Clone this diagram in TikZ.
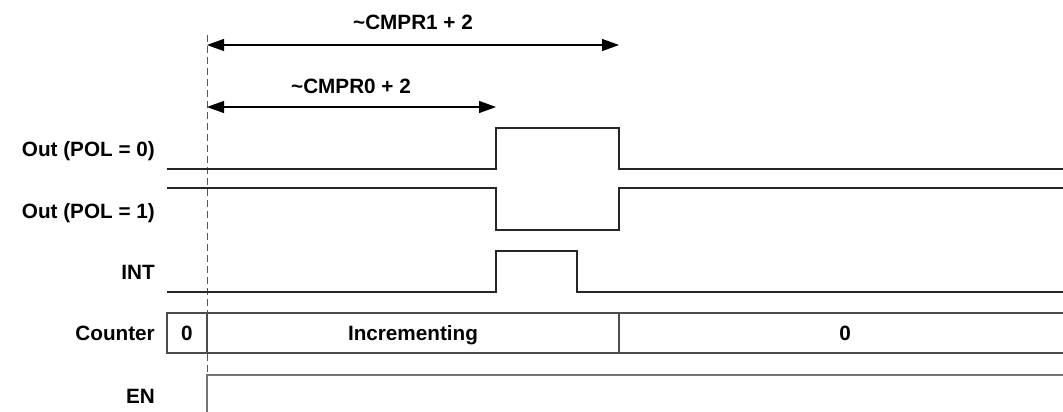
\documentclass[tikz,border=0pt]{standalone}
\usepackage{fontspec}
\setmainfont{Liberation Sans}
\usetikzlibrary{arrows.meta}
\begin{document}
\begin{tikzpicture}[x=1pt,y=-1pt,
  lab/.style={font=\bfseries\fontsize{20.7}{24}\selectfont, inner sep=0pt, text height=14.8pt, text depth=0pt},
  sig/.style={line width=1.3pt, draw=black!85},
  dim/.style={line width=1.2pt, {Triangle[length=17pt,width=12pt]}-{Triangle[length=17pt,width=12pt]}},
  cnt/.style={line width=1.2pt, draw=black!70}]
\useasboundingbox (0,0) rectangle (1063,412);
% dashed reference line
\coordinate (dtop) at (207,35);
\coordinate (dbot) at (207,412);
\draw[line width=0.9pt, draw=black!65, dash pattern=on 7pt off 4pt] (dtop) -- (dbot);
% dimension arrows
\coordinate (a1l) at (207,45);
\coordinate (a1r) at (619,45);
\coordinate (a0l) at (207,107);
\coordinate (a0r) at (496,107);
\draw[dim] (a1l) -- (a1r);
\draw[dim] (a0l) -- (a0r);
\node[lab] (t1) at (413,22) {\textasciitilde CMPR1 + 2};
\node[lab] (t0) at (351,86) {\textasciitilde CMPR0 + 2};
% labels
\node[lab, anchor=east] (l0) at (155,149) {Out (POL = 0)};
\node[lab, anchor=east] (l1) at (155,211) {Out (POL = 1)};
\node[lab, anchor=east] (li) at (155,272) {INT};
\node[lab, anchor=east] (lc) at (155,333) {Counter};
\node[lab, anchor=east] (le) at (155,396) {EN};
% Out POL=0
\draw[sig] (167,169) -- (496,169) -- (496,128) -- (619,128) -- (619,169) -- (1063,169);
% Out POL=1
\draw[sig] (167,188) -- (496,188) -- (496,230) -- (619,230) -- (619,188) -- (1063,188);
% INT
\draw[sig] (167,292) -- (496,292) -- (496,251) -- (577,251) -- (577,292) -- (1063,292);
% Counter
\draw[cnt] (1063,313) -- (167,313) -- (167,353) -- (1063,353);
\draw[cnt] (207,313) -- (207,353);
\draw[cnt] (619,313) -- (619,353);
\node[lab] (c0) at (187,333) {0};
\node[lab] (ci) at (413,333) {Incrementing};
\node[lab] (cz) at (845,333) {0};
% EN
\draw[line width=1.2pt, draw=black!55] (207,412) -- (207,375) -- (1063,375);
\end{tikzpicture}
\end{document}
